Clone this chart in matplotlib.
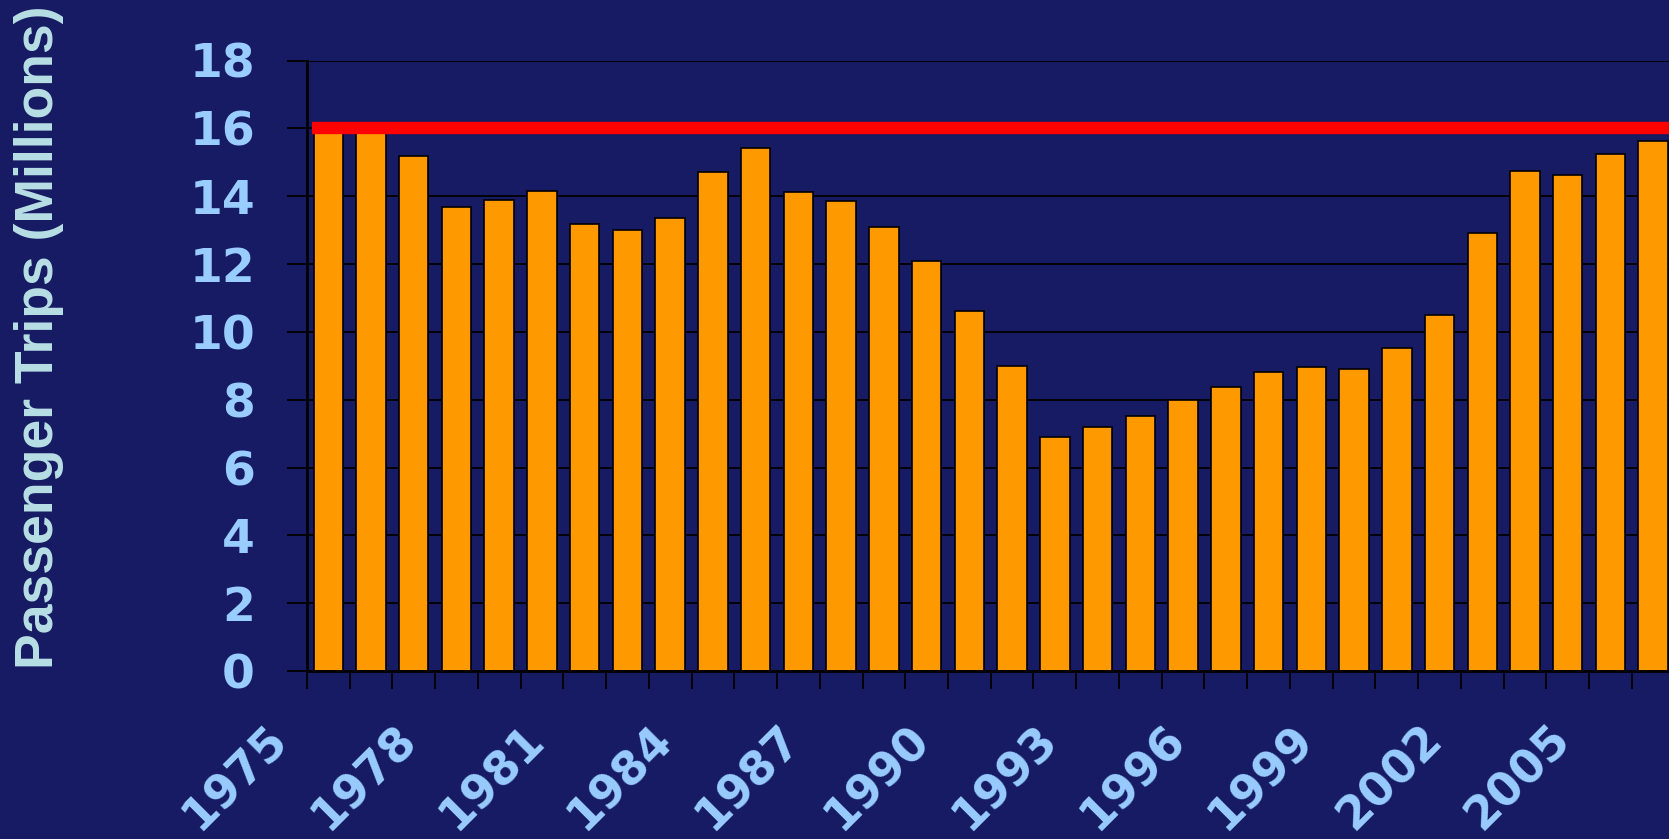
import numpy as np
import matplotlib
matplotlib.use('Agg')
import matplotlib.pyplot as plt
from matplotlib.transforms import ScaledTranslation

years = list(range(1975, 2007))
trips = [15.9, 15.9, 15.17, 13.68, 13.88, 14.16, 13.19, 13.00, 13.35, 14.70,
         15.43, 14.12, 13.87, 13.10, 12.09, 10.60, 9.00, 6.89, 7.18, 7.51,
         7.99, 8.38, 8.81, 8.95, 8.91, 9.53, 10.49, 12.91, 14.75, 14.61,
         15.24, 15.62]
target = 16.0
yticks = list(range(0, 19, 2))
ylabel = 'Passenger Trips (Millions)'

bg = '#171B63'
bar_col = '#FF9900'
tick_col = '#99CCFF'
label_col = '#B8DFE6'

fig = plt.figure(figsize=(16.69, 8.39), dpi=100)
fig.patch.set_facecolor(bg)
ax = fig.add_axes([306.9/1669, 168/839, 1367.7/1669, 610.5/839])
ax.set_facecolor(bg)

x = np.arange(len(years))
ax.bar(x, trips, width=0.69, color=bar_col, edgecolor='black', linewidth=1.2, zorder=2)
ax.plot([-0.39, len(years) - 0.5], [target, target], color='#FF0000', lw=8.9,
        solid_capstyle='butt', zorder=3)

ax.set_xlim(-0.5, len(years) - 0.5)
ax.set_ylim(0, 18)
ax.set_axisbelow(True)
ax.grid(axis='y', color='black', lw=1.3)

for s in ['top', 'right']:
    ax.spines[s].set_visible(False)
ax.spines['left'].set_linewidth(2)
ax.spines['bottom'].set_linewidth(2)
ax.spines['left'].set_zorder(4)

ax.set_yticks(yticks)
ax.set_yticklabels([str(v) for v in yticks])
ax.tick_params(axis='y', direction='out', length=14.4, width=1.3, color='black',
               pad=23, labelsize=34, labelcolor=tick_col)
for lab in ax.get_yticklabels():
    lab.set_fontweight('bold')

# year labels every 3rd category, boundary ticks as minor
ax.set_xticks(x[::3])
ax.set_xticklabels([str(y) for y in years[::3]], rotation=45, ha='center', va='center',
                   fontsize=33, fontweight='bold', color=tick_col)
ax.set_xticks(np.arange(-0.5, len(years)), minor=True)
ax.tick_params(axis='x', which='major', length=0, pad=77)
ax.tick_params(axis='x', which='minor', direction='out', length=13, width=1.3, color='black')
shift = ScaledTranslation(-0.92, 0, fig.dpi_scale_trans)
for lab in ax.get_xticklabels():
    lab.set_transform(lab.get_transform() + shift)

fig.text(14/1669, 1 - 337/839, ylabel, rotation=90, ha='left', va='center',
         fontsize=38.5, fontweight='bold', color=label_col, family='Liberation Sans')

fig.savefig('out.png', dpi=100, facecolor=bg)
